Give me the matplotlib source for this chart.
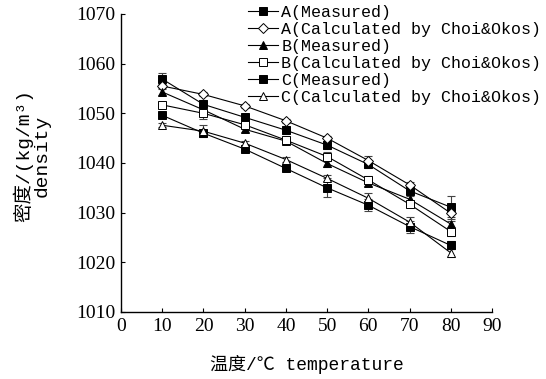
import matplotlib
matplotlib.use("Agg")
import matplotlib.pyplot as plt
import numpy as np

# 温度 (℃)
temperature = [10, 20, 30, 40, 50, 60, 70, 80]

# 密度 (kg/m3) 及误差
a_measured = [1056.9, 1051.8, 1049.2, 1046.6, 1043.6, 1039.7, 1034.4, 1031.1]
a_measured_err = [1.3, 0.8, 0.6, 0.7, 0.8, 0.8, 0.7, 2.3]
a_calc = [1055.5, 1053.8, 1051.5, 1048.5, 1045.0, 1040.5, 1035.6, 1029.9]
a_calc_err = [0.5, 0.4, 0.4, 0.4, 0.5, 1.0, 0.6, 0.8]
b_measured = [1054.3, 1050.7, 1046.8, 1044.4, 1039.9, 1036.0, 1032.7, 1027.7]
b_measured_err = [0.6, 0.6, 0.6, 0.6, 0.8, 0.6, 0.6, 0.6]
b_calc = [1051.7, 1050.0, 1047.7, 1044.6, 1041.3, 1036.6, 1031.7, 1026.2]
b_calc_err = [0.5, 1.2, 0.6, 0.6, 1.0, 0.8, 0.6, 0.8]
c_measured = [1049.6, 1046.0, 1042.8, 1038.9, 1035.0, 1031.5, 1027.2, 1023.4]
c_measured_err = [0.5, 0.6, 0.5, 0.5, 1.9, 1.2, 1.2, 0.8]
c_calc = [1047.6, 1046.4, 1044.0, 1040.7, 1036.9, 1032.9, 1028.1, 1021.9]
c_calc_err = [0.4, 1.2, 0.5, 0.5, 0.6, 1.0, 1.0, 0.8]

series = [
    ("A(Measured)", a_measured, a_measured_err, "s", "black"),
    ("A(Calculated by Choi&Okos)", a_calc, a_calc_err, "D", "white"),
    ("B(Measured)", b_measured, b_measured_err, "^", "black"),
    ("B(Calculated by Choi&Okos)", b_calc, b_calc_err, "s", "white"),
    ("C(Measured)", c_measured, c_measured_err, "s", "black"),
    ("C(Calculated by Choi&Okos)", c_calc, c_calc_err, "^", "white"),
]

mono_cjk = ["Liberation Mono", "Noto Sans CJK SC"]
serif = "Liberation Serif"

fig = plt.figure(figsize=(5.46, 3.79), dpi=100)
ax = fig.add_axes([0.2216, 0.1768, 0.6795, 0.7863])

handles = []
for label, vals, err, marker, face in series:
    ax.errorbar(temperature, vals, yerr=err, fmt="none", ecolor="#444444",
                elinewidth=0.8, capsize=3, capthick=0.8, zorder=2)
    ln, = ax.plot(temperature, vals, color="black", lw=0.8, marker=marker,
                  markersize=5.5 if marker != "D" else 5, markerfacecolor=face,
                  markeredgecolor="black", markeredgewidth=0.7, label=label, zorder=3)
    handles.append(ln)

ax.set_xlim(0, 90)
ax.set_ylim(1010, 1070)
ax.set_xticks(np.arange(0, 91, 10))
ax.set_yticks(np.arange(1010, 1071, 10))
ax.spines["top"].set_visible(False)
ax.spines["right"].set_visible(False)
for s in ("left", "bottom"):
    ax.spines[s].set_linewidth(1.0)
ax.tick_params(direction="in", length=3, width=0.8, labelsize=14, pad=4)
for t in ax.get_xticklabels() + ax.get_yticklabels():
    t.set_fontfamily(serif)

ax.set_xlabel("温度/℃ temperature", family=mono_cjk, fontsize=13, labelpad=15)
fig.text(0.058, 0.59, "密度/(kg/m³)\ndensity", family=mono_cjk, fontsize=14,
         rotation=90, ha="center", va="center", linespacing=1.05,
         multialignment="center")

leg = fig.legend(handles=handles, loc="upper left",
                 bbox_to_anchor=(248 / 546, 1 - 5 / 379), frameon=False,
                 prop={"family": mono_cjk, "size": 12}, labelspacing=0.12,
                 handlelength=1.8, handletextpad=0.2, borderpad=0,
                 borderaxespad=0)

fig.savefig("out.png", dpi=100)
